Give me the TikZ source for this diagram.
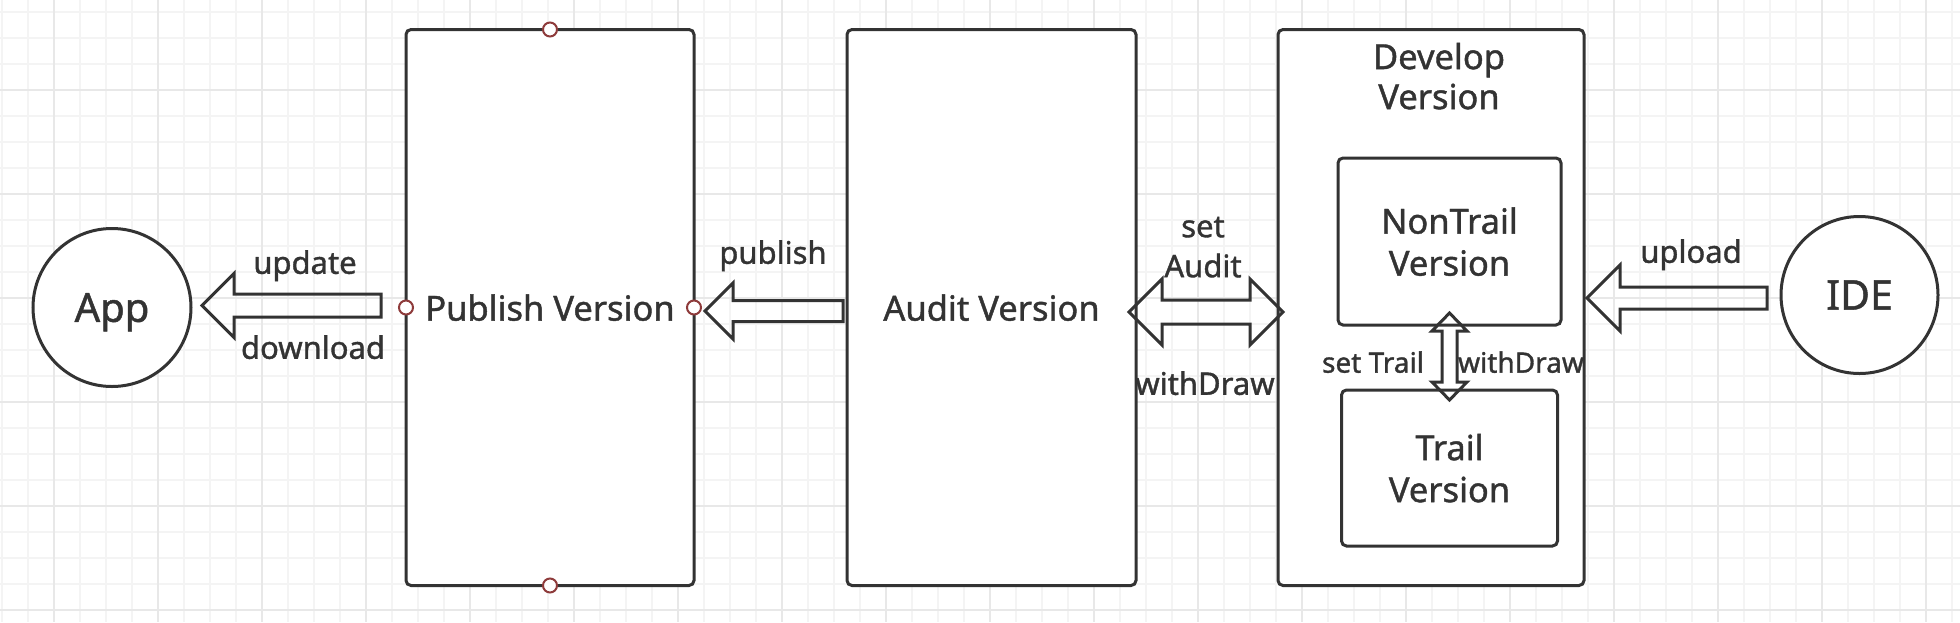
\documentclass[tikz,border=0pt]{standalone}
\usepackage{fontspec}
\setmainfont{Noto Sans}[FakeBold=1.2]
\usepackage{tikz}
\usetikzlibrary{positioning,calc}
\definecolor{inkGray}{HTML}{333333}
\definecolor{portRed}{HTML}{8E3B3B}
\definecolor{gridLight}{HTML}{F4F4F4}
\definecolor{gridDark}{HTML}{E8E8E8}

\begin{document}
\begin{tikzpicture}[x=1pt, y=-1pt, text=inkGray]
    % Define styles
    \tikzstyle{version} = [rectangle, draw=inkGray, line width=3pt, fill=white, rounded corners=5pt, inner sep=0pt, outer sep=0pt, text depth=0pt, align=center, font=\fontsize{34.5}{42}\selectfont]
    \tikzstyle{versiontext} = [inner sep=0pt, text depth=0pt, align=center, font=\fontsize{34.5}{40}\selectfont]
    \tikzstyle{endpoint} = [circle, draw=inkGray, line width=3pt, fill=white, inner sep=0pt, outer sep=0pt, text depth=0pt]
    \tikzstyle{port} = [circle, draw=portRed, line width=2pt, fill=white, minimum size=14pt, inner sep=0pt]
    \tikzstyle{actiontext} = [inner sep=0pt, text depth=0pt, align=center, font=\fontsize{31}{40}\selectfont]
    \tikzstyle{actionsmall} = [actiontext, font=\fontsize{28}{34}\selectfont]
    \tikzset{
      fatarrow/.style n args={3}{draw=inkGray, line width=3pt, line join=miter,
        to path={let \p1=($(\tikztotarget)!#3!(\tikztostart)$) in
          ($(\tikztostart)!#2!90:(\tikztotarget)$) -- ($(\p1)!#2!90:(\tikztotarget)$)
          -- ($(\p1)!#1!90:(\tikztotarget)$) -- (\tikztotarget)
          -- ($(\p1)!#1!-90:(\tikztotarget)$) -- ($(\p1)!#2!-90:(\tikztotarget)$)
          -- ($(\tikztostart)!#2!-90:(\tikztotarget)$) -- cycle}},
      fatdouble/.style n args={3}{draw=inkGray, line width=3pt, line join=miter,
        to path={let \p1=($(\tikztostart)!#3!(\tikztotarget)$), \p2=($(\tikztotarget)!#3!(\tikztostart)$) in
          (\tikztostart) -- ($(\p1)!#1!90:(\tikztotarget)$) -- ($(\p1)!#2!90:(\tikztotarget)$)
          -- ($(\p2)!#2!-90:(\tikztostart)$) -- ($(\p2)!#1!-90:(\tikztostart)$) -- (\tikztotarget)
          -- ($(\p2)!#1!90:(\tikztostart)$) -- ($(\p2)!#2!90:(\tikztostart)$)
          -- ($(\p1)!#2!-90:(\tikztotarget)$) -- ($(\p1)!#1!-90:(\tikztotarget)$) -- cycle}}
    }

    % Background grid
    \useasboundingbox (0,0) rectangle (1960,622);
    \fill [white] (0,0) rectangle (1960,622);
    \foreach \gx in {2,28,...,1960} \draw [gridLight, line width=2pt] (\gx,0) -- (\gx,622);
    \foreach \gy in {12,38,...,622} \draw [gridLight, line width=2pt] (0,\gy) -- (1960,\gy);
    \foreach \gx in {54,158,...,1960} \draw [gridDark, line width=2pt] (\gx,0) -- (\gx,622);
    \foreach \gy in {90,194,...,622} \draw [gridDark, line width=2pt] (0,\gy) -- (1960,\gy);

    % Versions
    \node [version, minimum width=288pt, minimum height=556pt] (pub) at (550,307.5) {Publish Version};
    \node [version, minimum width=289pt, minimum height=556pt, right=153pt of pub] (aud) {Audit Version};
    \node [version, minimum width=306pt, minimum height=556pt, right=142pt of aud] (dev) {};
    \node [versiontext] (devtitle) at (1439,76) {Develop\\Version};
    \node [version, minimum width=223pt, minimum height=167pt] (nontrail) at (1449.5,241.5) {NonTrail\\Version};
    \node [version, minimum width=216pt, minimum height=156pt, below=65pt of nontrail] (trail) {Trail\\Version};

    % Ends
    \node [endpoint, minimum size=158pt, font=\fontsize{40}{48}\selectfont, left=215pt of pub] (app) {App};
    \node [endpoint, minimum size=157pt, font=\fontsize{41}{48}\selectfont, right=197pt of dev, yshift=12.5pt] (ide) {IDE};

    % Ports
    \foreach \side/\tag in {north/N, south/S, west/W, east/E}
      \node [port] (pub\tag) at (pub.\side) {};

    % Arrows
    \draw [fatarrow={32pt}{11.5pt}{32pt}] ([xshift=-25pt, yshift=2pt]pub.west) to ([xshift=11pt, yshift=2pt]app.east);
    \draw [fatarrow={28pt}{10.5pt}{28pt}] ([xshift=-4pt, yshift=-3.5pt]aud.west) to ([xshift=11pt, yshift=-3.5pt]pub.east);
    \draw [fatdouble={33pt}{12pt}{33pt}] ([xshift=-7pt, yshift=-4.5pt]aud.east) to ([xshift=5pt, yshift=-4.5pt]dev.west);
    \draw [fatarrow={33pt}{11pt}{33pt}] ([xshift=-14pt, yshift=-3pt]ide.west) to ([xshift=3pt, yshift=9.5pt]dev.east);
    \draw [fatdouble={17.5pt}{7.5pt}{18pt}] ([yshift=12pt]nontrail.south) to ([yshift=-10pt]trail.north);

    % Labels
    \node [actiontext] (updlbl) at (305,262) {update};
    \node [actiontext] (downlbl) at (313,347) {download};
    \node [actiontext] (publbl) at (773,252) {publish};
    \node [actiontext] (setaudlbl) at (1203,247) {set\\Audit};
    \node [actiontext] (wdaudlbl) at (1205,383) {withDraw};
    \node [actionsmall] (settrlbl) at (1373,362) {set Trail};
    \node [actionsmall] (wdtrlbl) at (1521,362) {withDraw};
    \node [actiontext] (uplbl) at (1691,251) {upload};
\end{tikzpicture}
\end{document}
